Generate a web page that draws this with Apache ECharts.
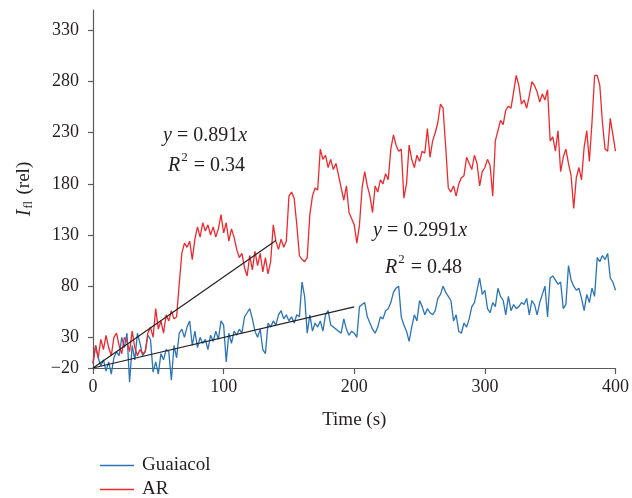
<!DOCTYPE html>
<html><head><meta charset="utf-8">
<script src="https://cdn.jsdelivr.net/npm/echarts@6/dist/echarts.min.js"></script>
<style>html,body{margin:0;padding:0;background:#fff}#c{width:632px;height:498px}</style>
</head><body><div id="c"></div>
<script>
// sampling interval (s) of the two traces
const sampleStep = 2;
// Guaiacol trace (rel. intensity), one value every 2 s from 0 to 400 s
const guaiacol = [4,22,10,2,8,-3,6,-6,10,16,12,30,20,34,-14,22,8,34,24,12,
16,32,28,-4,6,-6,14,8,18,16,-12,22,10,34,38,30,40,46,22,36,
20,30,24,28,18,32,26,36,28,46,42,6,34,24,36,32,38,34,50,54,
58,48,36,30,38,18,14,44,40,46,42,52,56,48,52,46,50,44,52,50,
84,70,34,52,36,44,40,46,36,52,56,42,40,38,36,34,48,38,32,36,
34,30,60,62,64,50,44,38,34,40,50,48,56,58,64,74,78,80,50,42,
36,26,40,52,46,66,60,52,58,54,52,56,68,72,80,74,70,66,46,52,
36,34,44,40,48,60,64,76,88,72,76,58,54,64,60,78,70,66,52,70,
56,62,58,60,64,62,68,52,66,62,52,64,72,80,50,88,90,86,82,84,
58,62,100,86,80,76,78,68,56,72,64,78,70,108,104,110,106,112,88,84,76];
// AR trace (rel. intensity), one value every 2 s from 0 to 400 s
const ar = [5,22,10,28,18,32,20,12,30,34,22,14,30,26,16,36,20,12,18,14,
16,34,40,30,58,38,46,34,52,46,56,48,50,82,112,122,118,124,106,126,
138,128,142,134,140,130,138,128,136,150,132,142,124,136,128,116,108,112,98,90,
110,96,114,100,112,94,108,92,104,140,124,116,126,118,124,168,172,166,140,110,
106,104,108,150,168,176,174,214,204,208,196,204,194,200,188,176,164,178,152,146,
140,122,140,176,192,178,168,152,178,172,184,180,190,184,214,228,218,212,214,166,
180,218,204,196,208,202,212,210,234,206,222,230,240,258,254,216,176,172,178,168,
180,186,188,206,200,194,208,200,178,192,196,204,198,168,222,232,242,238,252,256,
254,270,286,276,258,262,254,266,280,276,270,260,268,262,272,222,226,212,232,192,
206,214,200,188,156,186,196,184,216,232,202,240,286,286,276,240,214,212,244,228,212];
// linear fits: slope and end time of each fitted line
const fitAR = {slope: '0.891', end: 140, r2: '0.34'};
const fitGuaiacol = {slope: '0.2991', end: 200, r2: '0.48'};
const xTicks = [0, 100, 200, 300, 400];
const yTickValues = [0, 30, 80, 130, 180, 230, 280, 330];
const yTickLabels = ['\u221220', '30', '80', '130', '180', '230', '280', '330'];
const seriesNames = ['Guaiacol', 'AR'];

const toPairs = arr => arr.map((v, i) => [i * sampleStep, v]);
const fitLine = f => [[0, 0], [f.end, parseFloat(f.slope) * f.end]];

const FONT = 'Liberation Serif';
const TXT = '#231f20';
const BLUE = '#2a74b9', RED = '#ec2a2e';
const chart = echarts.init(document.getElementById('c'));
const eqRich = {
  it: {fontFamily: FONT, fontStyle: 'italic', fontSize: 20, color: TXT, lineHeight: 25, verticalAlign: 'bottom'},
  n: {fontFamily: FONT, fontSize: 20, color: TXT, lineHeight: 25, verticalAlign: 'bottom'},
  eq: {fontFamily: FONT, fontSize: 20, color: TXT, lineHeight: 25, verticalAlign: 'bottom', padding: [0, 5, 0, 5]},
  sup: {fontFamily: FONT, fontSize: 13, color: TXT, lineHeight: 13, verticalAlign: 'top', padding: [0, 1, 0, 1]}
};
function eqText(x, y, str) {
  return {type: 'text', left: x, top: y, z: 10, style: {text: str, rich: eqRich, fill: TXT}};
}
const legendBase = {
  orient: 'vertical', left: 95, icon: 'rect', itemWidth: 34, itemHeight: 1.5,
  textStyle: {fontFamily: FONT, fontSize: 19, color: TXT, padding: [0, 0, 0, 3]}
};
chart.setOption({
  animation: false,
  backgroundColor: '#fff',
  grid: {left: 93, right: 15, top: 10, bottom: 130},
  legend: [
    Object.assign({data: [seriesNames[0]], top: 451}, legendBase),
    Object.assign({data: [seriesNames[1]], top: 475}, legendBase)
  ],
  xAxis: {
    type: 'value', min: 0, max: 400, interval: 100,
    name: 'Time (s)', nameLocation: 'middle', nameGap: 43,
    nameTextStyle: {fontFamily: FONT, fontSize: 19, color: TXT},
    axisLine: {lineStyle: {color: '#58595b', width: 1.2}},
    axisTick: {show: true, length: 6, lineStyle: {color: '#58595b', width: 1.2}, customValues: xTicks},
    axisLabel: {fontFamily: FONT, fontSize: 18, color: TXT, margin: 10, customValues: xTicks},
    splitLine: {show: false}
  },
  yAxis: {
    type: 'value', min: 0, max: 350,
    name: '{i|I}{s|fl} (rel)', nameLocation: 'middle', nameGap: 58, nameRotate: 90,
    nameTextStyle: {fontFamily: FONT, fontSize: 19, color: TXT,
      rich: {i: {fontFamily: FONT, fontStyle: 'italic', fontSize: 20, color: TXT},
             s: {fontFamily: FONT, fontSize: 12, color: TXT, verticalAlign: 'bottom', padding: [9, 2, 0, 1]}}},
    axisLine: {show: true, lineStyle: {color: '#58595b', width: 1.2}},
    axisTick: {show: true, length: 5, lineStyle: {color: '#58595b', width: 1.2}, customValues: yTickValues},
    axisLabel: {fontFamily: FONT, fontSize: 18, color: TXT, margin: 14, customValues: yTickValues,
      formatter: v => yTickLabels[yTickValues.indexOf(v)]},
    splitLine: {show: false}
  },
  series: [
    {name: seriesNames[0], type: 'line', data: toPairs(guaiacol), symbol: 'none', clip: false,
      lineStyle: {color: BLUE, width: 1.3}, itemStyle: {color: BLUE}},
    {name: seriesNames[1], type: 'line', data: toPairs(ar), symbol: 'none', clip: false,
      lineStyle: {color: RED, width: 1.3}, itemStyle: {color: RED}},
    {name: 'fitAR', type: 'line', data: fitLine(fitAR), symbol: 'none', z: 5,
      lineStyle: {color: TXT, width: 1.2}},
    {name: 'fitGuaiacol', type: 'line', data: fitLine(fitGuaiacol), symbol: 'none', z: 5,
      lineStyle: {color: TXT, width: 1.2}}
  ],
  graphic: [
    eqText(163, 126, '{it|y}{eq|=}{n|' + fitAR.slope + '}{it|x}'),
    eqText(168, 151, '{it|R}{sup|2}{eq|=}{n|' + fitAR.r2 + '}'),
    eqText(373, 221, '{it|y}{eq|=}{n|' + fitGuaiacol.slope + '}{it|x}'),
    eqText(385, 253, '{it|R}{sup|2}{eq|=}{n|' + fitGuaiacol.r2 + '}')
  ]
});
</script>
</body></html>
